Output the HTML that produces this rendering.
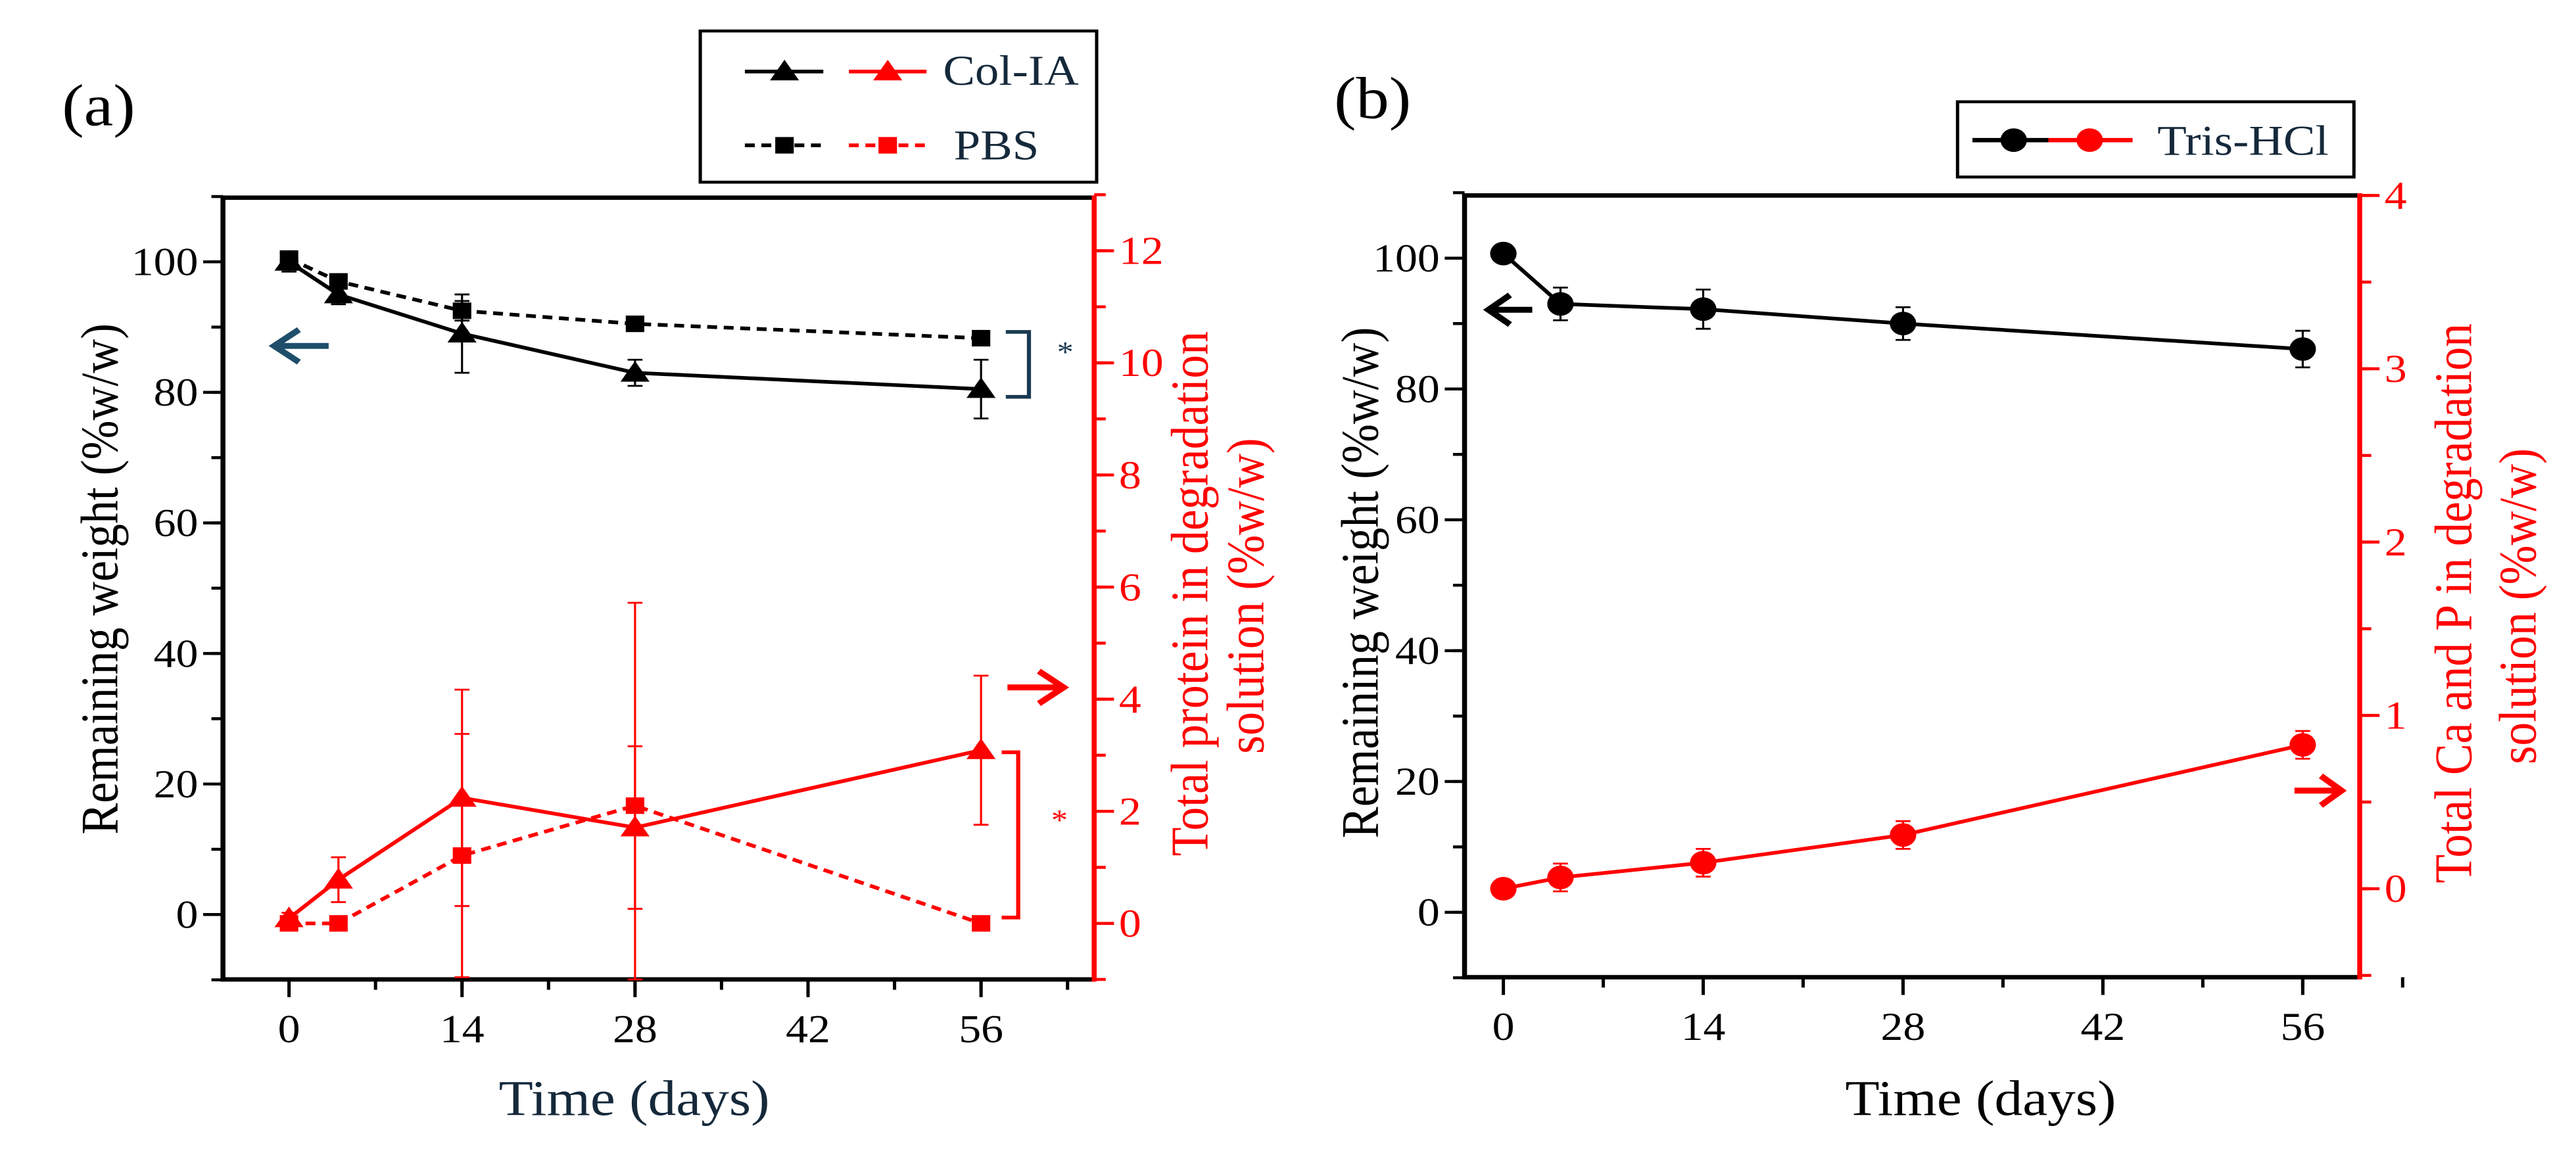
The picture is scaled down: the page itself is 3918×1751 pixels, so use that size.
<!DOCTYPE html>
<html><head><meta charset="utf-8"><style>
html,body{margin:0;padding:0;background:#fff}
svg{display:block}
text{font-family:"Liberation Serif",serif}
</style></head><body>
<svg id="chart" xmlns="http://www.w3.org/2000/svg" width="3918" height="1751" viewBox="0 0 3918 1751">
<g id="pa" transform="scale(1.256,1.122)"></g>
<g id="pb" transform="translate(1960,0) scale(1.256,1.122) translate(-1960,0)"></g>
</svg>
<script>
// ---- Panel (a) data ----
const daysA = [0, 4, 14, 28, 56];
const colWeight = [100, 95, 89, 83, 80.5];
const colWeightErr = [1.5, 1.5, 6, 2, 4.5];
const pbsWeight = [100.5, 97, 92.5, 90.5, 88.3];
const pbsWeightErr = [1, 1, 1.5, 1, 1];
const colProtein = [0.09, 0.78, 2.24, 1.71, 3.09];
const colProteinErr = [0.1, 0.4, 1.93, 1.45, 1.33];
const pbsProtein = [0, 0, 1.21, 2.1, 0];
const pbsProteinErr = [0, 0, 2.17, 3.62, 0];
// ---- Panel (b) data ----
const daysB = [0, 4, 14, 28, 56];
const trisWeight = [100.7, 93, 92.2, 90, 86.1];
const trisWeightErr = [1, 2.5, 3, 2.5, 2.8];
const trisCaP = [0.0, 0.065, 0.15, 0.31, 0.83];
const trisCaPErr = [0.05, 0.08, 0.08, 0.08, 0.08];
const xTicks = [0, 14, 28, 42, 56];
const leftTicks = [0, 20, 40, 60, 80, 100];
const rightTicksA = [0, 2, 4, 6, 8, 10, 12];
const rightTicksB = [0, 1, 2, 3, 4];

const NS = "http://www.w3.org/2000/svg";
function el(parent, tag, attrs, txt) {
  const e = document.createElementNS(NS, tag);
  for (const k in attrs) e.setAttribute(k, attrs[k]);
  if (txt !== undefined) e.textContent = txt;
  parent.appendChild(e);
  return e;
}
function lin(d0, d1, p0, p1) { return v => p0 + (v - d0) * (p1 - p0) / (d1 - d0); }

function marker(g, shape, x, y, color, s) {
  let m;
  if (shape === 'tri') m = el(g, 'polygon', {points: `${x},${y - s} ${x - s * 1.1},${y + s * 0.75} ${x + s * 1.1},${y + s * 0.75}`, fill: color});
  else if (shape === 'sq') m = el(g, 'rect', {x: x - s * 0.8, y: y - s * 0.8, width: s * 1.6, height: s * 1.6, fill: color});
  else m = el(g, 'circle', {cx: x, cy: y, r: s, fill: color});
  return m;
}

function series(g, name, xs, ys, errs, X, Y, color, dash, shape, yTop, yBot, ms) {
  const sg = el(g, 'g', {});
  
  
  xs.forEach((d, i) => {
    if (!errs[i]) return;
    const x = X(d);
    const t = Math.max(yTop, Y(ys[i] + errs[i])), b = Math.min(yBot, Y(ys[i] - errs[i]));
    const eb = el(sg, 'path', {d: `M${x},${t}V${b}M${x - 9},${t}H${x + 9}M${x - 9},${b}H${x + 9}`, stroke: color, 'stroke-width': 2.5, fill: 'none'});
    
    
  });
  const pts = xs.map((d, i) => X(d) + ',' + Y(ys[i])).join(' ');
  const ln = el(sg, 'polyline', {points: pts, fill: 'none', stroke: color, 'stroke-width': 5, 'stroke-dasharray': dash || 'none'});
  
  
  xs.forEach((d, i) => {
    const m = marker(sg, shape, X(d), Y(ys[i]), color, ms);
    
    
  });
}

function axes(g, o) {
  const {L, R, T, B, X, Yl, Yr, rTicks, rMinor, lMinor, xMinor} = o;
  const ag = el(g, 'g', {});
  
  
  el(ag, 'path', {d: `M${L},${T}H${R}M${L},${T - 3}V${B}M${L - 3},${B}H${R}`, stroke: '#000', 'stroke-width': 6, fill: 'none'});
  el(ag, 'path', {d: `M${R},${T - 3}V${B + 3}`, stroke: '#f00', 'stroke-width': 6});
  xMinor.forEach(d => el(ag, 'path', {d: `M${X(d)},${B}v14`, stroke: '#000', 'stroke-width': 4}));
  xTicks.forEach(d => {
    el(ag, 'path', {d: `M${X(d)},${B}v24`, stroke: '#000', 'stroke-width': 4});
    const t = el(ag, 'text', {x: X(d), y: B + 85, 'font-size': 54, 'text-anchor': 'middle', fill: '#000'}, d);
    
    
  });
  lMinor.forEach(v => el(ag, 'path', {d: `M${L},${Yl(v)}h-14`, stroke: '#000', 'stroke-width': 4}));
  leftTicks.forEach(v => {
    el(ag, 'path', {d: `M${L},${Yl(v)}h-24`, stroke: '#000', 'stroke-width': 4});
    const t = el(ag, 'text', {x: L - 30, y: Yl(v) + 18, 'font-size': 54, 'text-anchor': 'end', fill: '#000'}, v);
    
    
  });
  rMinor.forEach(v => el(ag, 'path', {d: `M${R},${Yr(v)}h14`, stroke: '#f00', 'stroke-width': 4}));
  rTicks.forEach(v => {
    el(ag, 'path', {d: `M${R},${Yr(v)}h24`, stroke: '#f00', 'stroke-width': 4});
    const t = el(ag, 'text', {x: R + 30, y: Yr(v) + 18, 'font-size': 54, fill: '#f00'}, v);
    
    
  });
}

function range(a, b, s) { const r = []; for (let v = a; v <= b + 1e-9; v += s) r.push(+v.toFixed(3)); return r; }

// ---------- Panel A ----------
(function () {
  const g = document.getElementById('pa');
  const L = 270, R = 1325, T = 268, B = 1328;
  const X = lin(0, 56, 350, 1188);
  const Yl = lin(0, 100, 1240, 355);
  const Yr = lin(0, 12, 1252, 340);
  axes(g, {L, R, T, B, X, Yl, Yr, rTicks: rightTicksA, rMinor: range(-1, 13, 1), lMinor: range(-10, 110, 10), xMinor: range(7, 63, 7)});
  series(g, 'pbs-weight', daysA, pbsWeight, pbsWeightErr, X, Yl, '#000', '12 8', 'sq', T, B, 14);
  series(g, 'colia-weight', daysA, colWeight, colWeightErr, X, Yl, '#000', null, 'tri', T, B, 16);
  series(g, 'pbs-protein', daysA, pbsProtein, pbsProteinErr, X, Yr, '#f00', '12 8', 'sq', T, B, 14);
  series(g, 'colia-protein', daysA, colProtein, colProteinErr, X, Yr, '#f00', null, 'tri', T, B, 16);
  let e = el(g, 'path', {d: 'M1218,450H1246V538H1218', stroke: '#1b3a52', 'stroke-width': 5, fill: 'none'});
   
  e = el(g, 'text', {x: 1280, y: 490, 'font-size': 40, fill: '#1b3a52'}, '*');
   
  e = el(g, 'path', {d: 'M1213,1020H1233V1244H1213', stroke: '#f00', 'stroke-width': 5, fill: 'none'});
   
  e = el(g, 'text', {x: 1273, y: 1125, 'font-size': 40, fill: '#f00'}, '*');
   
  e = el(g, 'path', {d: 'M398,469H332M362,447L332,469L362,491', stroke: '#1f4e6b', 'stroke-width': 8, fill: 'none'});
   
  e = el(g, 'path', {d: 'M1220,932H1288M1258,910L1288,932L1258,954', stroke: '#f00', 'stroke-width': 8, fill: 'none'});
   
  e = el(g, 'text', {x: 75, y: 170, 'font-size': 80, fill: '#000'}, '(a)');
   
  e = el(g, 'text', {x: 768, y: 1512, 'font-size': 68, 'text-anchor': 'middle', fill: '#15293b'}, 'Time (days)');
   
  e = el(g, 'text', {x: 0, y: 0, 'font-size': 64, 'text-anchor': 'middle', fill: '#000', transform: 'translate(142,785) rotate(-90)'}, 'Remaining weight (%w/w)');
   
  e = el(g, 'text', {x: 0, y: 0, 'font-size': 64, 'text-anchor': 'middle', fill: '#f00', transform: 'translate(1462,805) rotate(-90)'}, 'Total protein in degradation');
   
  e = el(g, 'text', {x: 0, y: 0, 'font-size': 64, 'text-anchor': 'middle', fill: '#f00', transform: 'translate(1530,808) rotate(-90)'}, 'solution (%w/w)');
   
  const lg = el(g, 'g', {});
   
  el(lg, 'rect', {x: 848, y: 42, width: 480, height: 205, fill: '#fff', stroke: '#000', 'stroke-width': 4});
  el(lg, 'path', {d: 'M902,97H997', stroke: '#000', 'stroke-width': 5});
  marker(lg, 'tri', 950, 97, '#000', 16);
  el(lg, 'path', {d: 'M1028,97H1122', stroke: '#f00', 'stroke-width': 5});
  marker(lg, 'tri', 1075, 97, '#f00', 16);
  e = el(lg, 'text', {x: 1142, y: 115, 'font-size': 58, fill: '#15293b'}, 'Col-IA');
   
  el(lg, 'path', {d: 'M902,197H997', stroke: '#000', 'stroke-width': 5, 'stroke-dasharray': '12 8'});
  marker(lg, 'sq', 950, 197, '#000', 14);
  el(lg, 'path', {d: 'M1028,197H1122', stroke: '#f00', 'stroke-width': 5, 'stroke-dasharray': '12 8'});
  marker(lg, 'sq', 1075, 197, '#f00', 14);
  e = el(lg, 'text', {x: 1155, y: 216, 'font-size': 58, fill: '#15293b'}, 'PBS');
   
})();

// ---------- Panel B ----------
(function () {
  const g = document.getElementById('pb');
  const O = 1960;
  const L = O + 213, R = O + 1297, T = 265, B = 1325;
  const X = lin(0, 56, O + 260, O + 1228);
  const Yl = lin(0, 100, 1237, 350);
  const Yr = lin(0, 4, 1205, 265);
  axes(g, {L, R, T, B, X, Yl, Yr, rTicks: rightTicksB, rMinor: range(-0.5, 4, 0.5), lMinor: range(-10, 110, 10), xMinor: range(7, 63, 7)});
  series(g, 'tris-weight', daysB, trisWeight, trisWeightErr, X, Yl, '#000', null, 'circ', T, B, 16);
  series(g, 'tris-cap', daysB, trisCaP, trisCaPErr, X, Yr, '#f00', null, 'circ', T, B, 16);
  let e = el(g, 'path', {d: `M${O + 295},420H${O + 242}M${O + 268},400L${O + 242},420L${O + 268},440`, stroke: '#000', 'stroke-width': 8, fill: 'none'});
   
  e = el(g, 'path', {d: `M${O + 1218},1072H${O + 1275}M${O + 1250},1052L${O + 1275},1072L${O + 1250},1092`, stroke: '#f00', 'stroke-width': 8, fill: 'none'});
   
  e = el(g, 'text', {x: O + 55, y: 160, 'font-size': 80, fill: '#000'}, '(b)');
   
  e = el(g, 'text', {x: O + 838, y: 1512, 'font-size': 68, 'text-anchor': 'middle', fill: '#000'}, 'Time (days)');
   
  e = el(g, 'text', {x: 0, y: 0, 'font-size': 64, 'text-anchor': 'middle', fill: '#000', transform: `translate(${O + 108},790) rotate(-90)`}, 'Remaining weight (%w/w)');
   
  e = el(g, 'text', {x: 0, y: 0, 'font-size': 64, 'text-anchor': 'middle', fill: '#f00', transform: `translate(${O + 1432},818) rotate(-90)`}, 'Total Ca and P in degradation');
   
  e = el(g, 'text', {x: 0, y: 0, 'font-size': 64, 'text-anchor': 'middle', fill: '#f00', transform: `translate(${O + 1510},822) rotate(-90)`}, 'solution (%w/w)');
   
  const lg = el(g, 'g', {});
   
  el(lg, 'rect', {x: O + 810, y: 138, width: 480, height: 102, fill: '#fff', stroke: '#000', 'stroke-width': 4});
  el(lg, 'path', {d: `M${O + 828},190H${O + 920}`, stroke: '#000', 'stroke-width': 6});
  marker(lg, 'circ', O + 878, 190, '#000', 16);
  el(lg, 'path', {d: `M${O + 920},190H${O + 1022}`, stroke: '#f00', 'stroke-width': 6});
  marker(lg, 'circ', O + 970, 190, '#f00', 16);
  e = el(lg, 'text', {x: O + 1052, y: 210, 'font-size': 58, fill: '#15293b'}, 'Tris-HCl');
   
})();
</script>
</body></html>
